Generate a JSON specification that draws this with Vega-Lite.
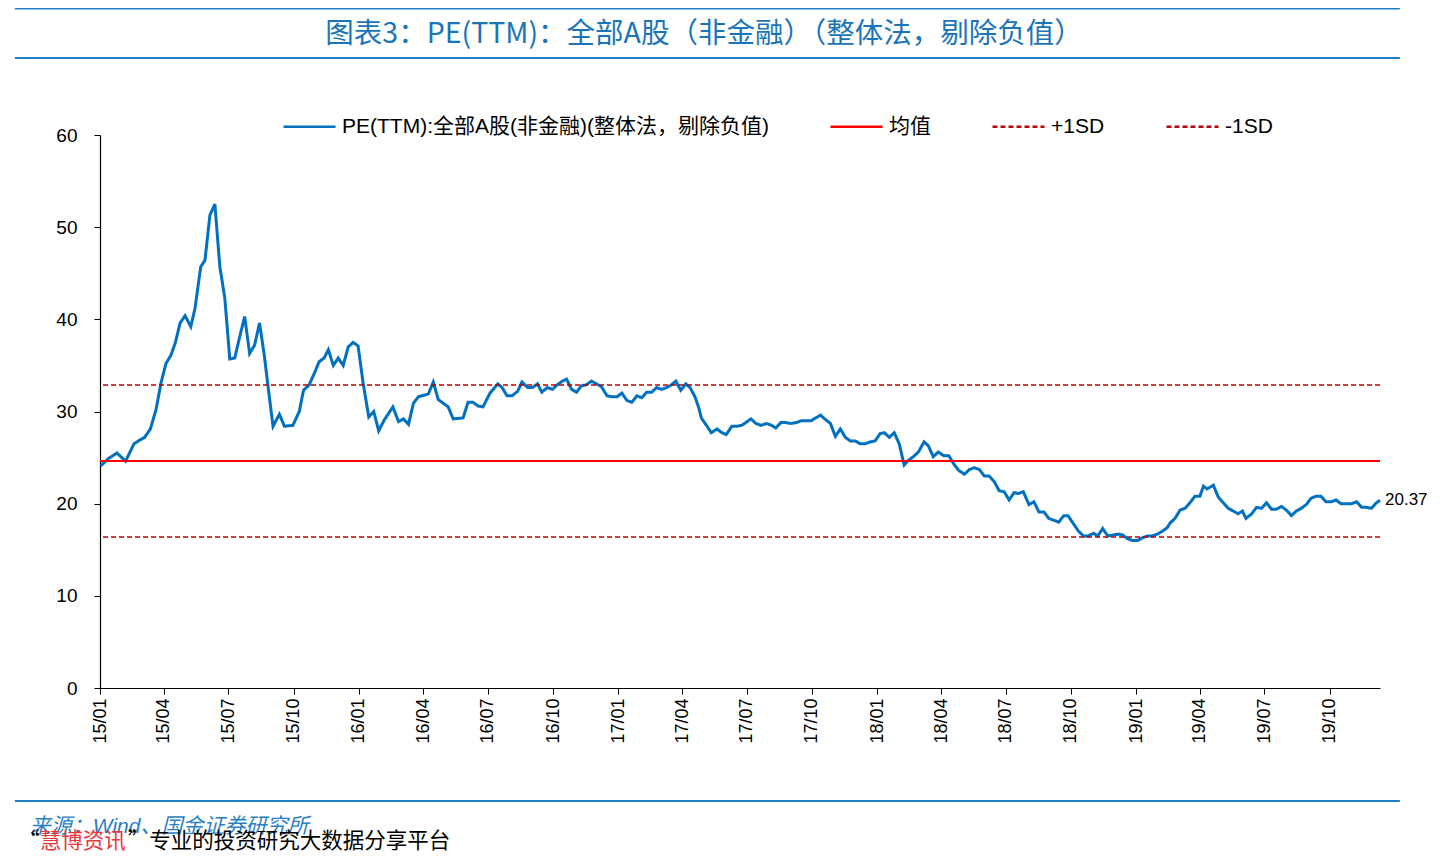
{
  "$schema": "https://vega.github.io/schema/vega-lite/v6.json",
  "width": 1280,
  "height": 553,
  "autosize": "none",
  "padding": {"left": 100, "top": 135, "right": 60, "bottom": 172},
  "background": "white",
  "config": {
    "view": {"stroke": null},
    "font": "Liberation Sans, Noto Sans CJK SC",
    "axis": {"domainColor": "#000000", "tickColor": "#000000", "labelColor": "#000000", "labelFont": "Liberation Sans", "grid": false, "title": null},
    "legend": {"title": null, "labelLimit": 0}
  },
  "title": {
    "text": "图表3：PE(TTM)：全部A股（非金融）（整体法，剔除负值）",
    "font": "Liberation Sans Narrow, Noto Sans CJK SC",
    "fontSize": 28.5,
    "fontWeight": "normal",
    "color": "#1a74b9",
    "anchor": "middle",
    "frame": "group",
    "baseline": "middle",
    "dx": -36,
    "offset": 0,
    "dy": 55
  },
  "layer": [
    {
      "data": {"values": [
        {"date": "2015-01-02", "pe": 24.1}, {"date": "2015-01-13", "pe": 24.9}, {"date": "2015-01-25", "pe": 25.5}, {"date": "2015-02-06", "pe": 24.6},
        {"date": "2015-02-18", "pe": 26.5}, {"date": "2015-02-26", "pe": 26.9}, {"date": "2015-03-05", "pe": 27.2}, {"date": "2015-03-13", "pe": 28.1},
        {"date": "2015-03-21", "pe": 30.2}, {"date": "2015-03-28", "pe": 33.1}, {"date": "2015-04-04", "pe": 35.2}, {"date": "2015-04-11", "pe": 36.1},
        {"date": "2015-04-17", "pe": 37.4}, {"date": "2015-04-24", "pe": 39.6}, {"date": "2015-05-01", "pe": 40.4}, {"date": "2015-05-09", "pe": 39.2},
        {"date": "2015-05-15", "pe": 41.2}, {"date": "2015-05-23", "pe": 45.7}, {"date": "2015-05-29", "pe": 46.4}, {"date": "2015-06-05", "pe": 51.3},
        {"date": "2015-06-12", "pe": 52.5}, {"date": "2015-06-19", "pe": 45.7}, {"date": "2015-06-26", "pe": 42.3}, {"date": "2015-07-03", "pe": 35.7},
        {"date": "2015-07-10", "pe": 35.8}, {"date": "2015-07-17", "pe": 38.1}, {"date": "2015-07-24", "pe": 40.3}, {"date": "2015-07-31", "pe": 36.3},
        {"date": "2015-08-07", "pe": 37.2}, {"date": "2015-08-14", "pe": 39.6}, {"date": "2015-08-21", "pe": 35.9}, {"date": "2015-08-26", "pe": 32.7},
        {"date": "2015-09-02", "pe": 28.4}, {"date": "2015-09-11", "pe": 29.7}, {"date": "2015-09-18", "pe": 28.4}, {"date": "2015-09-30", "pe": 28.5},
        {"date": "2015-10-09", "pe": 30.0}, {"date": "2015-10-15", "pe": 32.3}, {"date": "2015-10-23", "pe": 32.9}, {"date": "2015-10-30", "pe": 34.1},
        {"date": "2015-11-06", "pe": 35.4}, {"date": "2015-11-13", "pe": 35.8}, {"date": "2015-11-19", "pe": 36.7}, {"date": "2015-11-26", "pe": 35.0},
        {"date": "2015-12-03", "pe": 35.8}, {"date": "2015-12-10", "pe": 35.0}, {"date": "2015-12-17", "pe": 37.0}, {"date": "2015-12-24", "pe": 37.5},
        {"date": "2015-12-31", "pe": 37.1}, {"date": "2016-01-07", "pe": 33.1}, {"date": "2016-01-15", "pe": 29.4}, {"date": "2016-01-22", "pe": 30.0},
        {"date": "2016-01-29", "pe": 27.9}, {"date": "2016-02-06", "pe": 29.1}, {"date": "2016-02-18", "pe": 30.5}, {"date": "2016-02-26", "pe": 28.9},
        {"date": "2016-03-04", "pe": 29.2}, {"date": "2016-03-11", "pe": 28.6}, {"date": "2016-03-18", "pe": 30.9}, {"date": "2016-03-25", "pe": 31.6},
        {"date": "2016-04-08", "pe": 31.9}, {"date": "2016-04-15", "pe": 33.2}, {"date": "2016-04-22", "pe": 31.3}, {"date": "2016-05-06", "pe": 30.5},
        {"date": "2016-05-13", "pe": 29.2}, {"date": "2016-05-27", "pe": 29.3}, {"date": "2016-06-03", "pe": 31.0}, {"date": "2016-06-10", "pe": 31.0},
        {"date": "2016-06-17", "pe": 30.6}, {"date": "2016-06-24", "pe": 30.5}, {"date": "2016-07-04", "pe": 32.0}, {"date": "2016-07-15", "pe": 33.0},
        {"date": "2016-07-21", "pe": 32.6}, {"date": "2016-07-28", "pe": 31.7}, {"date": "2016-08-04", "pe": 31.7}, {"date": "2016-08-12", "pe": 32.2},
        {"date": "2016-08-18", "pe": 33.2}, {"date": "2016-08-26", "pe": 32.6}, {"date": "2016-09-02", "pe": 32.6}, {"date": "2016-09-09", "pe": 33.0},
        {"date": "2016-09-15", "pe": 32.1}, {"date": "2016-09-23", "pe": 32.6}, {"date": "2016-09-30", "pe": 32.4}, {"date": "2016-10-07", "pe": 32.9},
        {"date": "2016-10-14", "pe": 33.3}, {"date": "2016-10-20", "pe": 33.5}, {"date": "2016-10-27", "pe": 32.4}, {"date": "2016-11-03", "pe": 32.1},
        {"date": "2016-11-10", "pe": 32.8}, {"date": "2016-11-17", "pe": 32.9}, {"date": "2016-11-24", "pe": 33.3}, {"date": "2016-12-01", "pe": 33.0},
        {"date": "2016-12-08", "pe": 32.7}, {"date": "2016-12-16", "pe": 31.7}, {"date": "2016-12-23", "pe": 31.6}, {"date": "2016-12-30", "pe": 31.6},
        {"date": "2017-01-06", "pe": 32.0}, {"date": "2017-01-13", "pe": 31.2}, {"date": "2017-01-20", "pe": 31.0}, {"date": "2017-01-27", "pe": 31.7},
        {"date": "2017-02-03", "pe": 31.5}, {"date": "2017-02-10", "pe": 32.1}, {"date": "2017-02-17", "pe": 32.1}, {"date": "2017-02-24", "pe": 32.6},
        {"date": "2017-03-03", "pe": 32.4}, {"date": "2017-03-10", "pe": 32.6}, {"date": "2017-03-17", "pe": 32.9}, {"date": "2017-03-23", "pe": 33.3},
        {"date": "2017-03-30", "pe": 32.3}, {"date": "2017-04-06", "pe": 33.0}, {"date": "2017-04-12", "pe": 32.6}, {"date": "2017-04-19", "pe": 31.6},
        {"date": "2017-04-24", "pe": 30.5}, {"date": "2017-04-28", "pe": 29.3}, {"date": "2017-05-06", "pe": 28.4}, {"date": "2017-05-12", "pe": 27.7},
        {"date": "2017-05-20", "pe": 28.1}, {"date": "2017-05-27", "pe": 27.7}, {"date": "2017-06-02", "pe": 27.5}, {"date": "2017-06-10", "pe": 28.4},
        {"date": "2017-06-17", "pe": 28.4}, {"date": "2017-06-24", "pe": 28.5}, {"date": "2017-07-07", "pe": 29.2}, {"date": "2017-07-14", "pe": 28.7},
        {"date": "2017-07-21", "pe": 28.5}, {"date": "2017-07-29", "pe": 28.7}, {"date": "2017-08-05", "pe": 28.5}, {"date": "2017-08-11", "pe": 28.2},
        {"date": "2017-08-18", "pe": 28.8}, {"date": "2017-08-25", "pe": 28.8}, {"date": "2017-09-01", "pe": 28.7}, {"date": "2017-09-09", "pe": 28.8},
        {"date": "2017-09-16", "pe": 29.0}, {"date": "2017-09-23", "pe": 29.0}, {"date": "2017-09-30", "pe": 29.0}, {"date": "2017-10-06", "pe": 29.3},
        {"date": "2017-10-13", "pe": 29.6}, {"date": "2017-10-19", "pe": 29.2}, {"date": "2017-10-27", "pe": 28.7}, {"date": "2017-11-03", "pe": 27.3},
        {"date": "2017-11-10", "pe": 28.1}, {"date": "2017-11-17", "pe": 27.2}, {"date": "2017-11-24", "pe": 26.8}, {"date": "2017-12-01", "pe": 26.8},
        {"date": "2017-12-08", "pe": 26.5}, {"date": "2017-12-15", "pe": 26.5}, {"date": "2017-12-22", "pe": 26.7}, {"date": "2017-12-29", "pe": 26.8},
        {"date": "2018-01-05", "pe": 27.6}, {"date": "2018-01-11", "pe": 27.7}, {"date": "2018-01-18", "pe": 27.2}, {"date": "2018-01-25", "pe": 27.7},
        {"date": "2018-02-01", "pe": 26.5}, {"date": "2018-02-08", "pe": 24.2}, {"date": "2018-02-14", "pe": 24.7}, {"date": "2018-02-21", "pe": 25.1},
        {"date": "2018-02-28", "pe": 25.6}, {"date": "2018-03-08", "pe": 26.7}, {"date": "2018-03-14", "pe": 26.3}, {"date": "2018-03-21", "pe": 25.1},
        {"date": "2018-03-28", "pe": 25.6}, {"date": "2018-04-05", "pe": 25.2}, {"date": "2018-04-12", "pe": 25.2}, {"date": "2018-04-19", "pe": 24.3},
        {"date": "2018-04-26", "pe": 23.6}, {"date": "2018-05-04", "pe": 23.2}, {"date": "2018-05-11", "pe": 23.7}, {"date": "2018-05-18", "pe": 23.9},
        {"date": "2018-05-25", "pe": 23.7}, {"date": "2018-06-01", "pe": 23.0}, {"date": "2018-06-08", "pe": 23.0}, {"date": "2018-06-15", "pe": 22.4},
        {"date": "2018-06-22", "pe": 21.4}, {"date": "2018-06-29", "pe": 21.3}, {"date": "2018-07-06", "pe": 20.4}, {"date": "2018-07-13", "pe": 21.2},
        {"date": "2018-07-19", "pe": 21.1}, {"date": "2018-07-26", "pe": 21.3}, {"date": "2018-08-03", "pe": 19.9}, {"date": "2018-08-10", "pe": 20.2},
        {"date": "2018-08-17", "pe": 19.1}, {"date": "2018-08-24", "pe": 19.1}, {"date": "2018-08-31", "pe": 18.4}, {"date": "2018-09-07", "pe": 18.2},
        {"date": "2018-09-14", "pe": 18.0}, {"date": "2018-09-21", "pe": 18.7}, {"date": "2018-09-27", "pe": 18.7}, {"date": "2018-10-04", "pe": 17.9},
        {"date": "2018-10-12", "pe": 17.0}, {"date": "2018-10-19", "pe": 16.5}, {"date": "2018-10-26", "pe": 16.5}, {"date": "2018-11-02", "pe": 16.8},
        {"date": "2018-11-08", "pe": 16.5}, {"date": "2018-11-15", "pe": 17.3}, {"date": "2018-11-22", "pe": 16.5}, {"date": "2018-11-30", "pe": 16.6},
        {"date": "2018-12-07", "pe": 16.7}, {"date": "2018-12-13", "pe": 16.6}, {"date": "2018-12-20", "pe": 16.2}, {"date": "2018-12-27", "pe": 16.0},
        {"date": "2019-01-03", "pe": 16.0}, {"date": "2019-01-10", "pe": 16.3}, {"date": "2019-01-17", "pe": 16.5}, {"date": "2019-01-24", "pe": 16.5},
        {"date": "2019-01-31", "pe": 16.7}, {"date": "2019-02-07", "pe": 17.0}, {"date": "2019-02-14", "pe": 17.4}, {"date": "2019-02-18", "pe": 17.9},
        {"date": "2019-02-25", "pe": 18.4}, {"date": "2019-03-04", "pe": 19.3}, {"date": "2019-03-11", "pe": 19.5}, {"date": "2019-03-18", "pe": 20.1},
        {"date": "2019-03-25", "pe": 20.8}, {"date": "2019-04-01", "pe": 20.8}, {"date": "2019-04-06", "pe": 21.9}, {"date": "2019-04-11", "pe": 21.6},
        {"date": "2019-04-20", "pe": 22.0}, {"date": "2019-04-27", "pe": 20.7}, {"date": "2019-05-04", "pe": 20.1}, {"date": "2019-05-11", "pe": 19.5},
        {"date": "2019-05-18", "pe": 19.2}, {"date": "2019-05-25", "pe": 18.9}, {"date": "2019-05-31", "pe": 19.2}, {"date": "2019-06-05", "pe": 18.4},
        {"date": "2019-06-13", "pe": 18.9}, {"date": "2019-06-20", "pe": 19.6}, {"date": "2019-06-27", "pe": 19.5}, {"date": "2019-07-04", "pe": 20.1},
        {"date": "2019-07-11", "pe": 19.4}, {"date": "2019-07-18", "pe": 19.4}, {"date": "2019-07-25", "pe": 19.7}, {"date": "2019-08-01", "pe": 19.3},
        {"date": "2019-08-08", "pe": 18.7}, {"date": "2019-08-15", "pe": 19.2}, {"date": "2019-08-22", "pe": 19.5}, {"date": "2019-08-29", "pe": 19.9},
        {"date": "2019-09-05", "pe": 20.6}, {"date": "2019-09-12", "pe": 20.8}, {"date": "2019-09-19", "pe": 20.8}, {"date": "2019-09-26", "pe": 20.2},
        {"date": "2019-10-03", "pe": 20.2}, {"date": "2019-10-10", "pe": 20.4}, {"date": "2019-10-17", "pe": 20.0}, {"date": "2019-10-24", "pe": 20.0},
        {"date": "2019-11-01", "pe": 20.0}, {"date": "2019-11-08", "pe": 20.2}, {"date": "2019-11-15", "pe": 19.6}, {"date": "2019-11-22", "pe": 19.6},
        {"date": "2019-11-29", "pe": 19.5}, {"date": "2019-12-06", "pe": 20.1}, {"date": "2019-12-11", "pe": 20.37}
      ]},
      "mark": {"type": "line", "strokeWidth": 3, "clip": false},
      "encoding": {
        "x": {
          "field": "date", "type": "temporal",
          "scale": {"type": "utc", "domain": [{"year": 2015, "month": 1, "date": 1, "utc": true}, {"year": 2019, "month": 12, "date": 11, "utc": true}], "nice": false},
          "axis": {"format": "%y/%m", "tickCount": {"interval": "month", "step": 3}, "labelAngle": 270, "labelAlign": "right", "labelBaseline": "middle", "labelFontSize": 18, "tickSize": 6, "labelPadding": 4, "labelFlush": false, "labelOverlap": false, "domainWidth": 1.2}
        },
        "y": {
          "field": "pe", "type": "quantitative",
          "scale": {"domain": [0, 60], "nice": false, "zero": true},
          "axis": {"values": [0, 10, 20, 30, 40, 50, 60], "labelFontSize": 19, "tickSize": 6, "labelPadding": 17, "domainWidth": 1.2}
        },
        "color": {
          "datum": "PE(TTM):全部A股(非金融)(整体法，剔除负值)",
          "type": "nominal",
          "scale": {"domain": ["PE(TTM):全部A股(非金融)(整体法，剔除负值)", "均值", "+1SD", "-1SD"], "range": ["#0070C0", "#FF0000", "#C00000", "#C00000"]},
          "legend": {"orient": "none", "legendX": 182, "legendY": -36, "direction": "horizontal", "title": null, "labelLimit": 0, "symbolType": "stroke", "symbolSize": 2704, "symbolStrokeWidth": 2.5, "labelFontSize": 21, "labelColor": "#000000", "labelFont": "Liberation Sans, Noto Sans CJK SC", "columnPadding": 56, "labelOffset": 5}
        },
        "strokeDash": {
          "datum": "PE(TTM):全部A股(非金融)(整体法，剔除负值)",
          "type": "nominal",
          "scale": {"domain": ["PE(TTM):全部A股(非金融)(整体法，剔除负值)", "均值", "+1SD", "-1SD"], "range": [[1, 0], [1, 0], [5, 3], [5, 3]]},
          "legend": {"title": null}
        }
      }
    },
    {
      "data": {"values": [{"series": "均值", "level": 24.63}]},
      "mark": {"type": "rule", "strokeWidth": 2},
      "encoding": {
        "y": {"field": "level", "type": "quantitative"},
        "color": {"field": "series", "type": "nominal", "legend": {"title": null}},
        "strokeDash": {"field": "series", "type": "nominal", "legend": {"title": null}}
      }
    },
    {
      "data": {"values": [{"series": "+1SD", "level": 32.87}, {"series": "-1SD", "level": 16.38}]},
      "mark": {"type": "rule", "strokeWidth": 1.6},
      "encoding": {
        "y": {"field": "level", "type": "quantitative"},
        "color": {"field": "series", "type": "nominal", "legend": {"title": null}},
        "strokeDash": {"field": "series", "type": "nominal", "legend": {"title": null}}
      }
    },
    {
      "data": {"values": [{"date": "2019-12-11", "pe": 20.37}]},
      "mark": {"type": "text", "align": "left", "baseline": "middle", "dx": 5, "fontSize": 17, "color": "#000000", "font": "Liberation Sans"},
      "encoding": {
        "x": {"field": "date", "type": "temporal"},
        "y": {"field": "pe", "type": "quantitative"},
        "text": {"field": "pe", "type": "quantitative", "format": ".2f"}
      }
    },
    {
      "data": {"values": [{}]},
      "mark": {"type": "rule", "color": "#1f80c6", "strokeWidth": 1.6},
      "encoding": {
        "x": {"datum": {"year": 2014, "month": 9, "date": 3, "utc": true}, "type": "temporal"},
        "x2": {"datum": {"year": 2020, "month": 1, "date": 8, "utc": true}},
        "y": {"datum": 73.7, "type": "quantitative"}
      }
    },
    {
      "data": {"values": [{}]},
      "mark": {"type": "rule", "color": "#1f80c6", "strokeWidth": 2},
      "encoding": {
        "x": {"datum": {"year": 2014, "month": 9, "date": 3, "utc": true}, "type": "temporal"},
        "x2": {"datum": {"year": 2020, "month": 1, "date": 8, "utc": true}},
        "y": {"datum": 68.35, "type": "quantitative"}
      }
    },
    {
      "data": {"values": [{}]},
      "mark": {"type": "rule", "color": "#1f80c6", "strokeWidth": 2},
      "encoding": {
        "x": {"datum": {"year": 2014, "month": 9, "date": 3, "utc": true}, "type": "temporal"},
        "x2": {"datum": {"year": 2020, "month": 1, "date": 8, "utc": true}},
        "y": {"datum": -12.26, "type": "quantitative"}
      }
    },
    {
      "data": {"values": [{}]},
      "mark": {"type": "text", "text": "来源：Wind、国金证券研究所", "align": "left", "baseline": "middle", "fontSize": 21, "fontStyle": "italic", "color": "#2a7fc4", "font": "Liberation Sans, Noto Sans CJK SC"},
      "encoding": {
        "x": {"datum": {"year": 2014, "month": 9, "date": 24, "utc": true}, "type": "temporal"},
        "y": {"datum": -15.08, "type": "quantitative"}
      }
    },
    {
      "data": {"values": [{}]},
      "mark": {"type": "text", "text": "“", "align": "right", "baseline": "middle", "fontSize": 21.5, "color": "#000000", "font": "Noto Sans CJK SC"},
      "encoding": {
        "x": {"datum": {"year": 2014, "month": 10, "date": 8, "utc": true}, "type": "temporal"},
        "y": {"datum": -16.71, "type": "quantitative"}
      }
    },
    {
      "data": {"values": [{}]},
      "mark": {"type": "text", "text": "慧博资讯", "align": "left", "baseline": "middle", "fontSize": 21.5, "color": "#e8363b", "font": "Noto Sans CJK SC"},
      "encoding": {
        "x": {"datum": {"year": 2014, "month": 10, "date": 8, "utc": true}, "type": "temporal"},
        "y": {"datum": -16.71, "type": "quantitative"}
      }
    },
    {
      "data": {"values": [{}]},
      "mark": {"type": "text", "text": "”专业的投资研究大数据分享平台", "align": "left", "baseline": "middle", "fontSize": 21.5, "color": "#000000", "font": "Noto Sans CJK SC"},
      "encoding": {
        "x": {"datum": {"year": 2015, "month": 2, "date": 9, "utc": true}, "type": "temporal"},
        "y": {"datum": -16.71, "type": "quantitative"}
      }
    }
  ]
}
